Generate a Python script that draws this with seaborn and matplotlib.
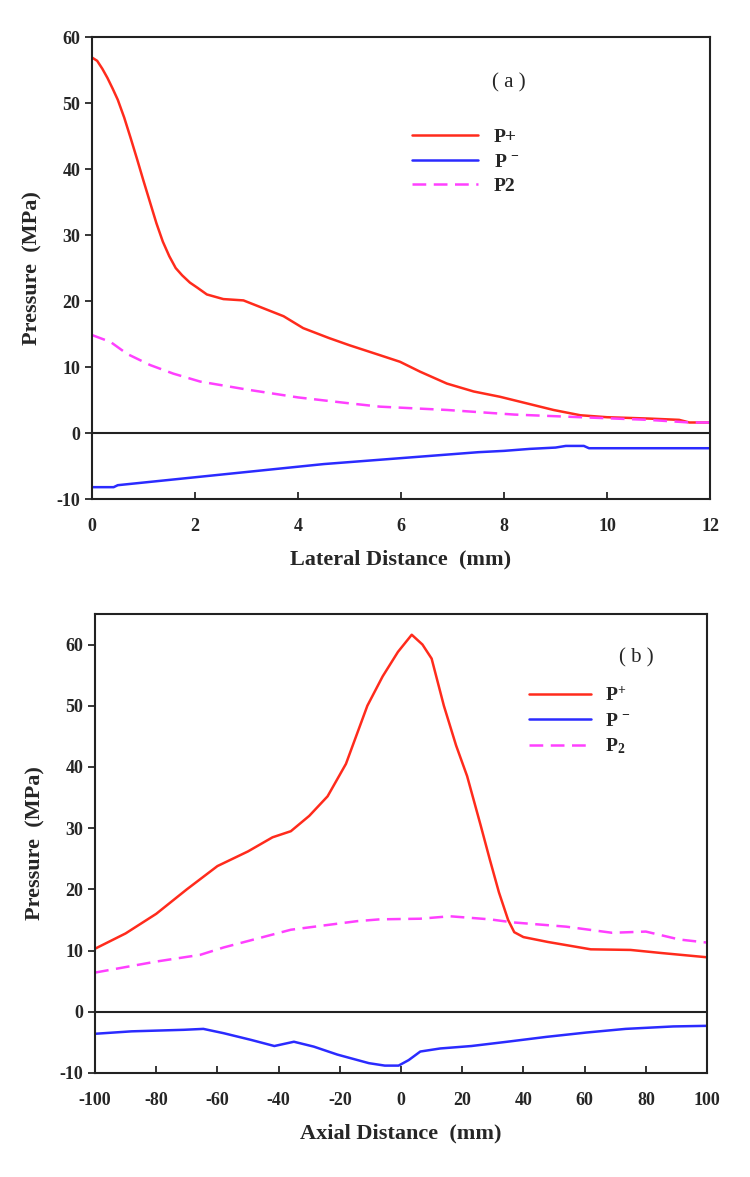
import numpy as np
import pandas as pd
import matplotlib
matplotlib.use("Agg")
import matplotlib.pyplot as plt
import seaborn as sns

# panel (a): lateral profiles
lat_x_pos = [0, 0.1, 0.2, 0.3, 0.4, 0.5, 0.625, 0.75, 0.875, 1.0, 1.125, 1.25, 1.375, 1.5, 1.625, 1.75,
             1.9, 2.05, 2.23, 2.55, 2.94, 3.33, 3.72, 4.1, 4.6, 5.0, 5.59, 5.98, 6.37, 6.89, 7.41,
             7.92, 8.44, 8.96, 9.48, 10.0, 10.8, 11.4, 11.6, 12.0]
lat_p_pos = [56.9, 56.4, 55.2, 53.8, 52.2, 50.5, 47.8, 44.7, 41.5, 38.2, 35.0, 31.8, 29.0, 26.8, 25.0, 23.9,
             22.8, 22.0, 21.0, 20.3, 20.1, 18.9, 17.7, 15.9, 14.4, 13.3, 11.8, 10.8, 9.3, 7.5, 6.3,
             5.5, 4.5, 3.5, 2.7, 2.4, 2.2, 2.0, 1.6, 1.6]
lat_x_neg = [0, 0.42, 0.5, 1.0, 1.5, 2.0, 2.5, 3.0, 3.5, 4.0, 4.5, 5.0, 5.5, 6.0, 6.5, 7.0,
             7.5, 8.0, 8.5, 9.0, 9.2, 9.55, 9.65, 12.0]
lat_p_neg = [-8.2, -8.2, -7.9, -7.5, -7.1, -6.7, -6.3, -5.9, -5.5, -5.1, -4.7, -4.4, -4.1, -3.8, -3.5, -3.2,
             -2.9, -2.7, -2.4, -2.2, -1.95, -1.95, -2.3, -2.3]
lat_x_p2 = [0, 0.36, 0.68, 1.13, 1.58, 2.1, 3.0, 4.0, 5.0, 5.59, 6.89, 8.2, 9.48, 10.8, 11.6, 12.0]
lat_p_p2 = [14.85, 13.8, 12.0, 10.3, 9.0, 7.8, 6.6, 5.4, 4.5, 4.0, 3.5, 2.8, 2.4, 2.0, 1.6, 1.6]

# panel (b): axial profiles
ax_x_pos = [-100, -90, -80, -70, -60, -50, -42, -36, -30, -24, -18, -11, -6, -1, 3.5, 7, 10,
            14, 18, 21.6, 26, 29, 32, 35, 37, 40, 48, 55, 62, 75, 85, 100]
ax_p_pos = [10.3, 12.8, 16.0, 20.0, 23.8, 26.2, 28.5, 29.5, 32.0, 35.2, 40.5, 50.0, 54.8, 58.8, 61.6, 60.0, 57.7,
            50.0, 43.5, 38.5, 30.5, 24.9, 19.5, 15.0, 13.0, 12.2, 11.4, 10.8, 10.2, 10.1, 9.6, 8.9]
ax_x_neg = [-100, -88, -71, -64.6, -58, -49, -41.4, -35, -28.5, -20.8, -10.5, -5.3, -0.8, 2.5, 6.3,
            12.8, 23, 34.7, 47.6, 60.5, 73.4, 89, 100]
ax_p_neg = [-3.6, -3.2, -2.95, -2.8, -3.5, -4.6, -5.6, -4.9, -5.7, -7.0, -8.4, -8.8, -8.8, -7.9, -6.5,
            -6.0, -5.6, -4.9, -4.1, -3.4, -2.8, -2.4, -2.3]
ax_x_p2 = [-100, -80, -65.6, -58, -36, -14.4, -6.9, 6.2, 16, 29, 36.6, 54, 69, 80, 91, 100]
ax_p_p2 = [6.4, 8.2, 9.3, 10.5, 13.4, 14.8, 15.1, 15.2, 15.6, 15.1, 14.6, 13.9, 12.9, 13.1, 11.8, 11.3]

RED = '#ff2b1c'
BLUE = '#2b2bff'
MAGENTA = '#ff40ff'

sns.set_style("white")
plt.rcParams['font.family'] = ['Liberation Serif', 'DejaVu Serif']
plt.rcParams['font.weight'] = 'bold'
plt.rcParams['axes.unicode_minus'] = False
plt.rcParams['mathtext.fontset'] = 'custom'
plt.rcParams['mathtext.rm'] = 'Liberation Serif:bold'
plt.rcParams['mathtext.it'] = 'Liberation Serif:bold'
plt.rcParams['mathtext.bf'] = 'Liberation Serif:bold'
plt.rcParams['mathtext.default'] = 'rm'

fig = plt.figure(figsize=(7.5, 11.77), dpi=100)
ax1 = fig.add_axes([0.1227, 0.576, 0.824, 0.3925])
ax2 = fig.add_axes([0.1267, 0.0884, 0.816, 0.390])


def draw(ax, xp, yp, xn, yn, x2, y2, labels):
    sns.lineplot(x=xp, y=yp, ax=ax, color=RED, lw=1.8, label=labels[0], sort=False, estimator=None)
    sns.lineplot(x=xn, y=yn, ax=ax, color=BLUE, lw=1.8, label=labels[1], sort=False, estimator=None)
    sns.lineplot(x=x2, y=y2, ax=ax, color=MAGENTA, lw=1.8, label=labels[2], sort=False, estimator=None,
                 dashes=False)
    ax.lines[-1].set_dashes((5.5, 3))
    ax.axhline(0, color='#222222', lw=1.5, zorder=1)
    for s in ax.spines.values():
        s.set_linewidth(1.5)
        s.set_color('#222222')
    ax.tick_params(axis='x', direction='in', length=5, width=1.3, labelsize=13, pad=14,
                   bottom=True, top=False)
    ax.tick_params(axis='y', direction='out', length=5, width=1.3, labelsize=13, left=True, right=False)
    ax.set_ylabel('Pressure  (MPa)', fontsize=16, fontweight='bold', labelpad=10)


draw(ax1, lat_x_pos, lat_p_pos, lat_x_neg, lat_p_neg, lat_x_p2, lat_p_p2, ['P+', 'P $^{-}$', 'P2'])
ax1.set_xlim(0, 12)
ax1.set_ylim(-10, 60)
ax1.set_xticks(range(0, 13, 2))
ax1.set_yticks(range(-10, 61, 10))
ax1.set_xlabel('Lateral Distance  (mm)', fontsize=16, fontweight='bold', labelpad=10)
ax1.text(0.675, 0.9, '( a )', transform=ax1.transAxes, fontsize=15, fontweight='normal', ha='center', va='center')
ax1.legend(loc='upper left', bbox_to_anchor=(0.49, 0.84), frameon=False, fontsize=14,
           handlelength=3.4, labelspacing=0.35, handletextpad=0.8)

draw(ax2, ax_x_pos, ax_p_pos, ax_x_neg, ax_p_neg, ax_x_p2, ax_p_p2, ['P$^{+}$', 'P $^{-}$', 'P$_{2}$'])
ax2.set_xlim(-100, 100)
ax2.set_ylim(-10, 65)
ax2.set_xticks(range(-100, 101, 20))
ax2.set_yticks(range(-10, 61, 10))
ax2.set_xlabel('Axial Distance  (mm)', fontsize=16, fontweight='bold', labelpad=10)
ax2.text(0.885, 0.905, '( b )', transform=ax2.transAxes, fontsize=15, fontweight='normal', ha='center', va='center')
ax2.legend(loc='upper left', bbox_to_anchor=(0.68, 0.88), frameon=False, fontsize=14,
           handlelength=3.2, labelspacing=0.35, handletextpad=0.7)

fig.savefig('out.png', dpi=100)
